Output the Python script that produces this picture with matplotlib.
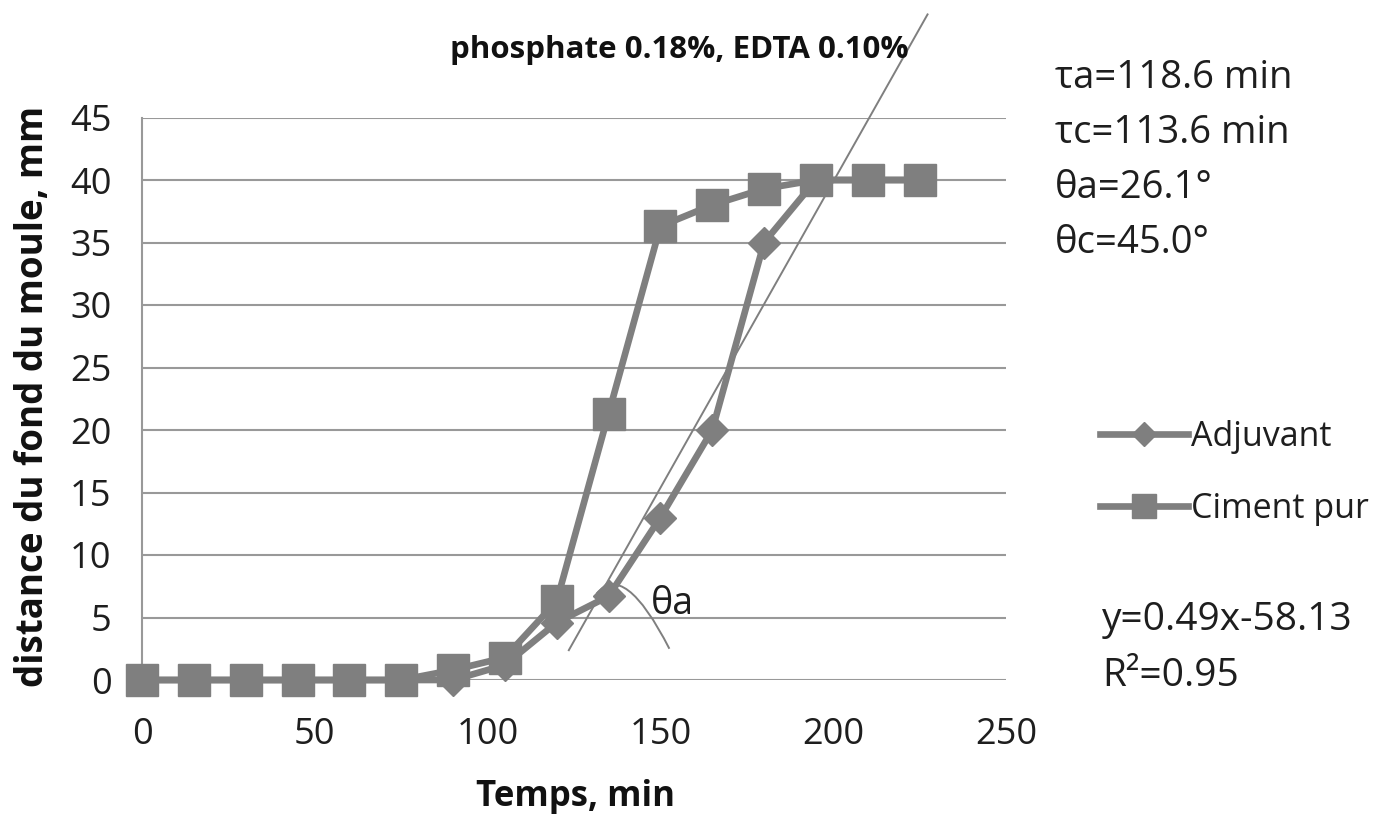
import numpy as np
import matplotlib.pyplot as plt
from matplotlib.path import Path
from matplotlib.patches import PathPatch

plt.rcParams['font.family'] = ['Open Sans', 'DejaVu Sans']

temps = [0, 15, 30, 45, 60, 75, 90, 105, 120, 135, 150, 165, 180, 195, 210, 225]
adjuvant = [0, 0, 0, 0, 0, 0, 0, 1.2, 4.6, 6.7, 13, 20, 35, 40, 40, 40]
ciment_pur = [0, 0, 0, 0, 0, 0, 0.8, 1.8, 6.3, 21.3, 36.3, 38, 39.3, 40, 40, 40]

pente, ordonnee = 0.49, -58.13
x_tangente = [123.5, 227.3]

gris = '#7f7f7f'
gris_grille = '#999999'
noir = '#1e1e1e'

fig = plt.figure(figsize=(13.77, 8.14), dpi=100)
ax = fig.add_axes([142/1377, 1 - 680/814, (1006 - 142)/1377, (680 - 117.5)/814])

ax.plot(temps, adjuvant, color=gris, lw=4.8, marker='D', ms=16.5, mec=gris, mfc=gris,
        label='Adjuvant', clip_on=False, zorder=3)
ax.plot(temps, ciment_pur, color=gris, lw=4.8, marker='s', ms=23, mec=gris, mfc=gris,
        label='Ciment pur', clip_on=False, zorder=4)

xt = np.array(x_tangente)
ax.plot(xt, pente*xt + ordonnee, color=gris, lw=1.4, clip_on=False, zorder=5)

# arc de l'angle theta a
arc = Path([(131.5, 6.9), (139.5, 9.6), (152.6, 2.5)], [Path.MOVETO, Path.CURVE3, Path.CURVE3])
ax.add_patch(PathPatch(arc, fc='none', ec=gris, lw=1.4, zorder=5))
ax.text(147.3, 6.1, 'θa', fontsize=27, va='center', ha='left', color=noir)

ax.set_xlim(0, 250)
ax.set_ylim(0, 45)
ax.set_xticks(range(0, 251, 50))
ax.set_yticks(range(0, 46, 5))
ax.grid(axis='y', color=gris_grille, lw=1.5)
ax.set_axisbelow(True)
for s in ['top', 'right', 'bottom']:
    ax.spines[s].set_visible(False)
ax.spines['left'].set_color(gris_grille)
ax.spines['left'].set_linewidth(1.5)
ax.tick_params(axis='both', length=0, labelsize=26, labelcolor=noir)
ax.tick_params(axis='x', pad=27)
ax.tick_params(axis='y', pad=22)

fig.text(575/1377, 1 - 797/814, 'Temps, min', fontsize=25, fontweight='bold',
         ha='center', va='center', color='#111111')
fig.text(33/1377, 1 - 396/814, 'distance du fond du moule, mm', fontsize=26.5,
         fontweight='bold', rotation=90, ha='center', va='center', color='#111111')
fig.text(679/1377, 1 - 50/814, 'phosphate 0.18%, EDTA 0.10%', fontsize=22.5,
         fontweight='bold', ha='center', va='center', color='#111111')

infos = ['τa=118.6 min', 'τc=113.6 min', 'θa=26.1°', 'θc=45.0°']
for i, t in enumerate(infos):
    fig.text(1055/1377, 1 - (78 + 55*i)/814, t, fontsize=27.5, ha='left', va='center',
             color=noir)
fig.text(1102/1377, 1 - 620/814, 'y=0.49x-58.13', fontsize=28, ha='left', va='center',
         color=noir)
fig.text(1102/1377, 1 - 676/814, 'R²=0.95', fontsize=28, ha='left', va='center',
         color=noir)

leg = fig.legend(loc='center left', bbox_to_anchor=(1086/1377, 1 - 473/814),
                 frameon=False, fontsize=24.5, handlelength=2.6, handletextpad=0.1,
                 labelspacing=1.1, borderaxespad=0, markerscale=0.75)
for t in leg.get_texts():
    t.set_color(noir)

fig.savefig('out.png', dpi=100)
